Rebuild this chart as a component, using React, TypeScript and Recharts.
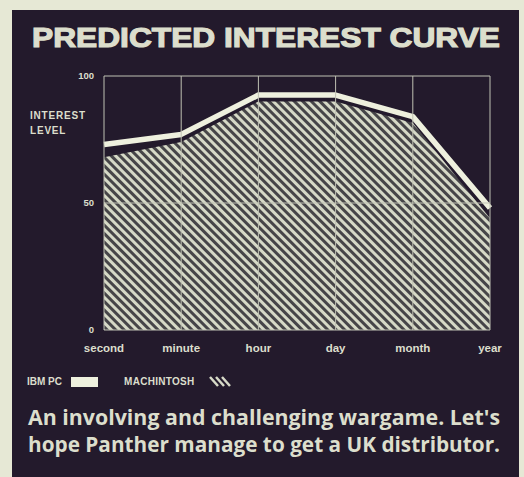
import { AreaChart, Area, XAxis, YAxis, ReferenceLine } from "recharts";

// time scale categories
const periods: string[] = ["second", "minute", "hour", "day", "month", "year"];
// interest level
const ibmPc: number[] = [73, 77, 92.5, 92.5, 84, 48];
const macintosh: number[] = [68, 74, 90, 90, 81.5, 44];
const yTicks: number[] = [0, 50, 100];

const data = periods.map((p, i) => ({ period: p, ibm: ibmPc[i], mac: macintosh[i] }));

const PANEL = "#231a2c";
const INK = "#dcdecc";
const GRID = "#bfc1b3";
const LIGHT = "#d6d9c7";
const DARK = "#464548";

const App = () => {
  return (
    <div style={{ position: "absolute", left: 0, top: 0, width: 524, height: 477, background: "#e6e8d5", overflow: "hidden", fontFamily: "'Liberation Sans', Arial, sans-serif" }}>
      <div style={{ position: "absolute", left: 12, top: 10, width: 507, height: 470, background: PANEL }} />

      <svg width={524} height={477} style={{ position: "absolute", left: 0, top: 0 }}>
        <text x={32} y={47} textLength={468} lengthAdjust="spacingAndGlyphs" fill={INK} stroke={INK} strokeWidth={1.2}
          style={{ fontSize: 28, fontWeight: 900, fontFamily: "'Liberation Sans', Arial, sans-serif" }}>
          PREDICTED INTEREST CURVE
        </text>
        <text x={30} y={119} fill={INK} style={{ fontSize: 10, fontWeight: 700, letterSpacing: 0.8 }}>INTEREST</text>
        <text x={30} y={134} fill={INK} style={{ fontSize: 10, fontWeight: 700, letterSpacing: 0.8 }}>LEVEL</text>
        <text x={28} y={425} textLength={472} lengthAdjust="spacingAndGlyphs" fill={INK}
          style={{ fontSize: 21, fontWeight: 700, fontFamily: "'Open Sans', sans-serif" }}>
          An involving and challenging wargame. Let's
        </text>
        <text x={28} y={452} textLength={472} lengthAdjust="spacingAndGlyphs" fill={INK}
          style={{ fontSize: 21, fontWeight: 700, fontFamily: "'Open Sans', sans-serif" }}>
          hope Panther manage to get a UK distributor.
        </text>
      </svg>

      <div style={{ position: "absolute", left: 0, top: 0 }}>
        <AreaChart width={524} height={477} data={data} margin={{ top: 76, right: 34, bottom: 117, left: 74 }}>
          <defs>
            <pattern id="hatch" patternUnits="userSpaceOnUse" width={6} height={6} patternTransform="rotate(-45)">
              <rect x={0} y={0} width={6} height={6} fill={DARK} />
              <rect x={0} y={0} width={3} height={6} fill={LIGHT} />
            </pattern>
          </defs>
          <XAxis dataKey="period" axisLine={false} tickLine={false} height={30} interval={0}
            tick={{ fill: INK, fontSize: 11.5, fontWeight: 700 }} dy={6} />
          <YAxis domain={[0, 100]} ticks={yTicks} width={30} axisLine={false} tickLine={false}
            tick={{ fill: INK, fontSize: 9.5, fontWeight: 700 }} dx={-2} />
          <Area type="linear" dataKey="mac" name="MACHINTOSH" stroke="none" fill="url(#hatch)" fillOpacity={1} isAnimationActive={false} />
          <Area type="linear" dataKey="ibm" name="IBM PC" stroke="#eef0de" strokeWidth={5.5} strokeLinejoin="round" fill="none" isAnimationActive={false} dot={false} activeDot={false} />
          {periods.map((p) => (
            <ReferenceLine key={p} x={p} stroke={GRID} strokeWidth={1} />
          ))}
          {yTicks.map((t) => (
            <ReferenceLine key={t} y={t} stroke={GRID} strokeWidth={1} />
          ))}
        </AreaChart>
      </div>

      <div style={{ position: "absolute", left: 27, top: 376, display: "flex", alignItems: "center", color: INK, fontSize: 10, fontWeight: 700 }}>
        <span>IBM PC</span>
        <span style={{ display: "inline-block", width: 27, height: 10, background: "#eef0de", marginLeft: 9 }} />
        <span style={{ marginLeft: 26, letterSpacing: 0.3 }}>MACHINTOSH</span>
        <svg width={27} height={11} style={{ marginLeft: 13 }}>
          <path d="M2 1 L10 10 M8 1 L16 10 M14 1 L22 10" stroke={LIGHT} strokeWidth={2.5} />
        </svg>
      </div>
    </div>
  );
};

export default App;
